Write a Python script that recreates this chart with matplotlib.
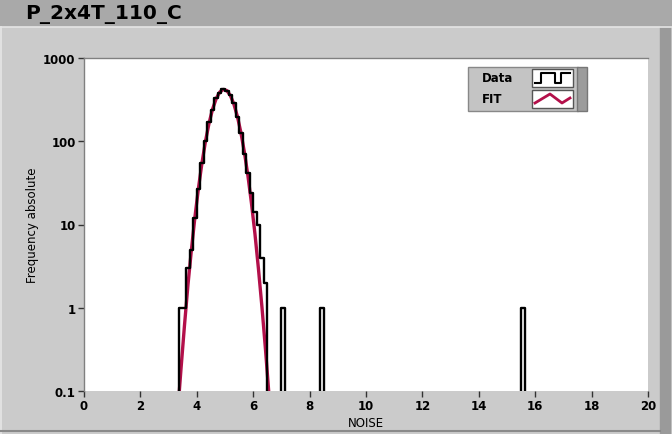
import numpy as np
import matplotlib.pyplot as plt
from matplotlib.patches import Rectangle
from matplotlib.lines import Line2D

# histogram: bin width 0.125 on NOISE, counts
bin_width = 0.125
main_start = 3.375
main_counts = [1, 1, 3, 5, 12, 27, 55, 100, 170, 240, 330, 385,
               430, 400, 360, 285, 195, 125, 70, 42, 24, 14, 10, 4, 2]
outlier_left = [7.0, 8.375, 15.5]
outlier_counts = [1, 1, 1]

# gaussian fit curve sampled at bin centres
fit_x = [3.3125, 3.4375, 3.5625, 3.6875, 3.8125, 3.9375, 4.0625, 4.1875,
         4.3125, 4.4375, 4.5625, 4.6875, 4.8125, 4.9375, 5.0625, 5.1875,
         5.3125, 5.4375, 5.5625, 5.6875, 5.8125, 5.9375, 6.0625, 6.1875,
         6.3125, 6.4375, 6.5625, 6.6875]
fit_y = [0.05, 0.18, 0.61, 1.9, 5.1, 12.6, 28, 56, 102, 167, 245, 325, 389,
         419, 407, 356, 281, 200, 128, 74, 38.6, 18.1, 7.7, 2.9, 1.0, 0.31,
         0.087, 0.022]

x_ticks = [0, 2, 4, 6, 8, 10, 12, 14, 16, 18, 20]
y_ticks = [0.1, 1, 10, 100, 1000]
y_labels = ["0.1", "1", "10", "100", "1000"]

title = "P_2x4T_110_C"

W, H = 672, 435
def fx(x):
    return x / W
def fy(y):
    return 1 - y / H

# build full histogram on a 0..20 grid
edges = np.arange(0, 20 + bin_width / 2, bin_width)
counts = np.zeros(len(edges) - 1)
i0 = int(round(main_start / bin_width))
counts[i0:i0 + len(main_counts)] = main_counts
for left, c in zip(outlier_left, outlier_counts):
    counts[int(round(left / bin_width))] = c
draw_counts = np.where(counts > 0, counts, 1e-3)

fig = plt.figure(figsize=(W / 100, H / 100), dpi=100, facecolor='#cbcbcb')

# title band and panel frame
fig.patches.append(Rectangle((0, fy(27)), 1, 1 - fy(27), transform=fig.transFigure,
                             color='#a9a9a9', zorder=0))
fig.patches.append(Rectangle((fx(660), 0), fx(10), fy(27), transform=fig.transFigure,
                             color='#9a9a9a', zorder=0))
fig.add_artist(Line2D([0, 1], [fy(28), fy(28)], color='#e6e6e6', lw=1.2))
fig.add_artist(Line2D([fx(1), fx(1)], [0, fy(28)], color='#e6e6e6', lw=1.2))
fig.add_artist(Line2D([0, fx(660)], [fy(432), fy(432)], color='#8a8a8a', lw=1.5))
fig.text(fx(25), fy(14), title, fontsize=14.5, fontweight='bold', va='center', ha='left')

ax = fig.add_axes([fx(84), fy(392), fx(564), fy(59) - fy(392)])
ax.set_facecolor('white')

ax.step(edges[:-1], draw_counts, where='post', color='black', lw=1.7)
ax.plot([edges[-2], edges[-1]], [draw_counts[-1], draw_counts[-1]], color='black', lw=1.7)
ax.plot(fit_x, fit_y, color='#b3104a', lw=2.4, zorder=1)

ax.set_yscale('log')
ax.set_xlim(0, 20)
ax.set_ylim(0.1, 1000)
ax.set_xticks(x_ticks)
ax.set_xticklabels([str(t) for t in x_ticks])
ax.set_yticks(y_ticks)
ax.set_yticklabels(y_labels)
ax.minorticks_off()
ax.tick_params(direction='out', length=4, width=1, color='#333333', labelsize=8.5, pad=2)
for lab in ax.get_xticklabels() + ax.get_yticklabels():
    lab.set_fontweight('bold')
for s in ['right', 'bottom']:
    ax.spines[s].set_visible(False)
for s in ['top', 'left']:
    ax.spines[s].set_color('#808080')
    ax.spines[s].set_linewidth(1)

ax.set_xlabel('NOISE', fontsize=8.5, labelpad=3)
ax.set_ylabel('Frequency absolute', fontsize=8.5, labelpad=3)

# legend box drawn like the instrument panel
fig.patches.append(Rectangle((fx(468), fy(112)), fx(110), fy(68) - fy(112),
                             transform=fig.transFigure, facecolor='#c4c4c4',
                             edgecolor='#888888', lw=1, zorder=5))
fig.patches.append(Rectangle((fx(577), fy(112)), fx(10), fy(68) - fy(112),
                             transform=fig.transFigure, facecolor='#9c9c9c',
                             edgecolor='#777777', lw=1, zorder=5))
for yb in (70, 91):
    fig.patches.append(Rectangle((fx(532), fy(yb + 18)), fx(41), fy(yb) - fy(yb + 18),
                                 transform=fig.transFigure, facecolor='white',
                                 edgecolor='#555555', lw=1, zorder=6))
fig.text(fx(482), fy(79), 'Data', fontsize=8.5, fontweight='bold', va='center', zorder=7)
fig.text(fx(482), fy(100), 'FIT', fontsize=8.5, fontweight='bold', va='center', zorder=7)
sx = [535, 541, 541, 555, 555, 561, 561, 570]
sy = [84, 84, 74, 74, 84, 84, 74, 74]
fig.add_artist(Line2D([fx(v) for v in sx], [fy(v) for v in sy], color='black', lw=1.5, zorder=8))
zx = [535, 550, 562, 570]
zy = [104, 95, 104, 99]
fig.add_artist(Line2D([fx(v) for v in zx], [fy(v) for v in zy], color='#b3104a', lw=2, zorder=8))

fig.savefig('out.png', dpi=100, facecolor=fig.get_facecolor())
